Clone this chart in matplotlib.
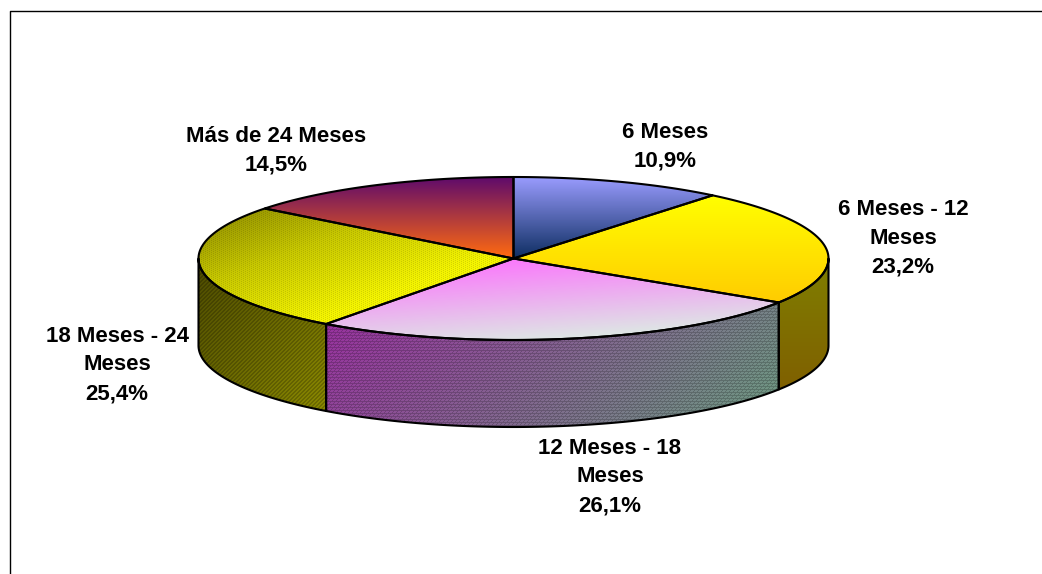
import numpy as np
import matplotlib
matplotlib.use("Agg")
import matplotlib.pyplot as plt
from matplotlib.patches import Polygon
from matplotlib.colors import LinearSegmentedColormap

plt.rcParams['font.family'] = ['Liberation Sans', 'DejaVu Sans']

# Datos del grafico
labels = ["6 Meses\n10,9%", "6 Meses - 12\nMeses\n23,2%", "12 Meses - 18\nMeses\n26,1%",
          "18 Meses - 24\nMeses\n25,4%", "Más de 24 Meses\n14,5%"]
values = [10.9, 23.2, 26.1, 25.4, 14.5]

# colores inicio -> fin del degradado de cada porcion
top_colors = [("#9a9cff", "#0f2f63"), ("#ffff00", "#ffcc00"), ("#ff66ff", "#d8fce0"),
              ("#8a8800", "#c8c800", "#f4f400", "#ffff00"), ("#5e0a6c", "#ff6a10")]
top_dirs = [(0, 1), (0, 1), (0.4, 1), (1, 1), (0, 1)]
top_patterns = [None, None, None, "weave", None]

side_colors = [None, ("#7f7f00", "#7f6000"), ("#9a2ea0", "#6c9c80"),
               ("#4c4a00", "#8a8800"), None]
side_dirs = [None, (0, 1), (1, 0.3), (1, 1), None]
side_patterns = [None, None, "rows", "diag", None]

label_pos = [(665, 146.5), (903, 238), (610, 477), (117, 365), (276, 150.5)]

cx, cy = 513.5, 258.5
rx, ry = 315.0, 81.5
depth = 87

fig = plt.figure(figsize=(10.42, 5.74), dpi=100)
ax = fig.add_axes([0, 0, 1, 1])
ax.set_xlim(0, 1042)
ax.set_ylim(574, 0)
ax.axis("off")


# Rellena un poligono con un degradado y, si hace falta, una trama fina
def fill_gradient(points, colors, direction, pattern=None):
    xs, ys = points[:, 0], points[:, 1]
    x0, x1 = xs.min(), xs.max()
    y0, y1 = ys.min(), ys.max()
    cmap = LinearSegmentedColormap.from_list("g", colors)
    w = max(int(x1 - x0) + 1, 2)
    h = max(int(y1 - y0) + 1, 2)
    yy, xx = np.mgrid[0:h, 0:w]
    t = (direction[0] * xx / (w - 1) + direction[1] * yy / (h - 1)) / (direction[0] + direction[1])
    img = cmap(t)[:, :, :3].copy()
    if pattern == "weave":
        img[((xx + 2 * yy) % 4) == 0] *= 0.88
    elif pattern == "rows":
        img[(yy % 3 == 0) | ((xx + yy) % 4 == 0)] *= 0.8
    elif pattern == "diag":
        img[((xx + yy) % 4) < 2] *= 0.8
    im = ax.imshow(img, extent=(x0, x1, y1, y0), aspect="auto", zorder=2,
                   interpolation="nearest")
    im.set_clip_path(Polygon(points, closed=True, transform=ax.transData))
    ax.add_patch(Polygon(points, closed=True, fill=False, edgecolor="black", lw=1.5,
                         joinstyle="round", zorder=3))


# Angulos de cada porcion, en sentido horario desde arriba
edges = np.cumsum([0] + values) / np.sum(values) * 2 * np.pi


def rim(a0, a1, n=120):
    a = np.linspace(a0, a1, n)
    return np.column_stack([cx + rx * np.sin(a), cy - ry * np.cos(a)])


# Primero los laterales, solo la parte visible (mitad delantera)
for i in range(len(values)):
    if side_colors[i] is None:
        continue
    a0 = max(edges[i], np.pi / 2)
    a1 = min(edges[i + 1], 3 * np.pi / 2)
    if a0 >= a1:
        continue
    arc = rim(a0, a1)
    lower = arc[::-1] + [0, depth]
    fill_gradient(np.vstack([arc, lower]), side_colors[i], side_dirs[i], side_patterns[i])

# Despues la cara superior
for i in range(len(values)):
    arc = rim(edges[i], edges[i + 1])
    pts = np.vstack([[cx, cy], arc])
    fill_gradient(pts, top_colors[i], top_dirs[i], top_patterns[i])

# Etiquetas
for (x, y), txt in zip(label_pos, labels):
    ax.text(x, y, txt, ha="center", va="center", fontsize=16, fontweight="bold",
            color="black", linespacing=1.48, zorder=5)

# Marco del grafico
ax.plot([9.5, 9.5, 1042], [574, 10.5, 10.5], color="black", lw=1, zorder=1)

ax.set_xlim(0, 1042)
ax.set_ylim(574, 0)
fig.savefig("out.png", dpi=100)
